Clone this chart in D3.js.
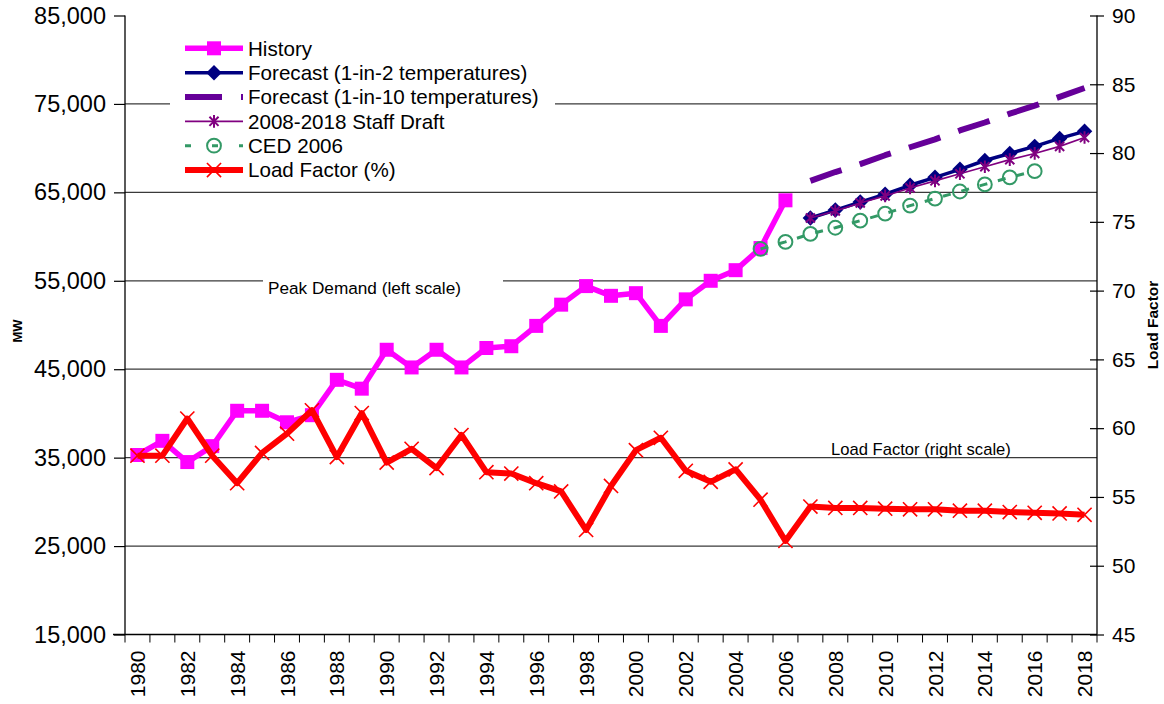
<!DOCTYPE html>
<html><head><meta charset="utf-8">
<script src="https://cdn.jsdelivr.net/npm/d3@7"></script>
<style>
html,body{margin:0;padding:0;background:#fff;}
text{font-family:"Liberation Sans",Arial,sans-serif;fill:#000;}
</style></head>
<body>
<svg id="chart" width="1164" height="704"></svg>
<script>
const years = [1980,1981,1982,1983,1984,1985,1986,1987,1988,1989,1990,1991,1992,1993,1994,1995,1996,1997,1998,1999,2000,2001,2002,2003,2004,2005,2006,2007,2008,2009,2010,2011,2012,2013,2014,2015,2016,2017,2018];
const historyYears = [1980,1981,1982,1983,1984,1985,1986,1987,1988,1989,1990,1991,1992,1993,1994,1995,1996,1997,1998,1999,2000,2001,2002,2003,2004,2005,2006];
const historyMW = [35300,36900,34500,36300,40300,40300,39000,39800,43800,42800,47200,45200,47200,45200,47400,47600,49900,52300,54400,53300,53600,49900,52900,55000,56200,58700,64100];
const forecastYears = [2007,2008,2009,2010,2011,2012,2013,2014,2015,2016,2017,2018];
const forecast1in2 = [62100,63000,63900,64800,65800,66700,67600,68600,69400,70200,71100,71900];
const forecast1in10 = [66300,67300,68200,69200,70100,71000,72000,72900,73900,74800,75800,76800];
const staffDraft = [62100,62900,63800,64600,65500,66300,67100,67900,68700,69400,70200,71200];
const cedYears = [2005,2006,2007,2008,2009,2010,2011,2012,2013,2014,2015,2016];
const ced2006 = [58600,59400,60300,61000,61800,62600,63500,64300,65100,65900,66700,67400];
const loadFactor = [58.0,58.0,60.7,58.0,56.0,58.2,59.6,61.3,57.9,61.1,57.5,58.5,57.1,59.5,56.8,56.7,56.0,55.4,52.6,55.8,58.4,59.3,56.9,56.1,57.0,54.8,51.8,54.3,54.2,54.2,54.15,54.1,54.1,54.0,54.0,53.9,53.85,53.8,53.7];
const leftTicks = [15000,25000,35000,45000,55000,65000,75000,85000];
const rightTicks = [45,50,55,60,65,70,75,80,85,90];
const xLabelYears = [1980,1982,1984,1986,1988,1990,1992,1994,1996,1998,2000,2002,2004,2006,2008,2010,2012,2014,2016,2018];
const legendLabels = ["History","Forecast (1-in-2 temperatures)","Forecast (1-in-10 temperatures)","2008-2018 Staff Draft","CED 2006","Load Factor (%)"];

const svg = d3.select("#chart");
const L = 125, R = 1097, T = 15.5, B = 634.5;
const x = d3.scaleBand().domain(years).range([L, R]).padding(0);
const cx = d => x(d) + x.bandwidth()/2;
const yL = d3.scaleLinear().domain([15000,85000]).range([B, T]);
const yR = d3.scaleLinear().domain([45,90]).range([B, T]);

// gridlines
svg.append("g").selectAll("line").data(leftTicks.filter(v => v>15000 && v<85000)).join("line")
  .attr("x1", L).attr("x2", R).attr("y1", d=>yL(d)).attr("y2", d=>yL(d))
  .attr("stroke", "#3a3a3a").attr("stroke-width", 1.2);

// left axis
const gl = svg.append("g").attr("transform", `translate(${L},0)`)
  .call(d3.axisLeft(yL).tickValues(leftTicks).tickSize(11).tickPadding(8).tickFormat(d3.format(",")));
gl.select(".domain").attr("stroke","#000").attr("stroke-width",1.3).attr("d", `M0,${T}V${B}`);
gl.selectAll(".tick line").attr("stroke","#000").attr("stroke-width",1.2);
gl.selectAll(".tick text").attr("font-size", 23.5).attr("font-family","Liberation Sans, Arial, sans-serif").attr("fill","#000");

// right axis
const gr = svg.append("g").attr("transform", `translate(${R},0)`)
  .call(d3.axisRight(yR).tickValues(rightTicks).tickSize(6).tickPadding(10));
gr.select(".domain").attr("stroke","#000").attr("stroke-width",1.3).attr("d", `M0,${T}V${B}`);
gr.selectAll(".tick line").attr("stroke","#000").attr("stroke-width",1.2).attr("x1",-7).attr("x2",7);
gr.selectAll(".tick text").attr("font-size", 21).attr("font-family","Liberation Sans, Arial, sans-serif").attr("fill","#000").attr("x", 15);

// bottom axis
const gb = svg.append("g");
gb.append("line").attr("x1", L-12).attr("x2", R).attr("y1", B).attr("y2", B).attr("stroke","#000").attr("stroke-width",1.3);
gb.selectAll("line.tk").data(years.concat([null])).join("line").attr("class","tk")
  .attr("x1", (d,i)=> L + i*x.bandwidth()).attr("x2", (d,i)=> L + i*x.bandwidth())
  .attr("y1", B).attr("y2", B+8).attr("stroke","#000").attr("stroke-width",1);
gb.selectAll("text").data(xLabelYears).join("text")
  .attr("transform", d => `translate(${cx(d)},${B+16}) rotate(-90)`)
  .attr("text-anchor","end").attr("dy","0.36em").attr("font-size",21).text(d=>d);

// axis titles
svg.append("text").attr("transform","translate(22,331) rotate(-90)").attr("text-anchor","middle")
  .attr("font-size",13).attr("font-weight","bold").text("MW");
svg.append("text").attr("transform","translate(1158,325) rotate(-90)").attr("text-anchor","middle")
  .attr("font-size",15.5).attr("font-weight","bold").text("Load Factor");

// annotations
svg.append("rect").attr("x",263).attr("y",276).attr("width",240).attr("height",12).attr("fill","#fff");
svg.append("text").attr("x",268).attr("y",294).attr("font-size",17.2).text("Peak Demand (left scale)");
svg.append("text").attr("x",831).attr("y",455).attr("font-size",16.6).text("Load Factor (right scale)");

// symbols
const asterisk = {draw(ctx, size){ const r = Math.sqrt(size)/2; const d = r*0.72;
  ctx.moveTo(0,-r); ctx.lineTo(0,r); ctx.moveTo(-d,-d); ctx.lineTo(d,d); ctx.moveTo(-d,d); ctx.lineTo(d,-d);}};
const xMark = {draw(ctx, size){ const r = Math.sqrt(size)/2;
  ctx.moveTo(-r,-r); ctx.lineTo(r,r); ctx.moveTo(-r,r); ctx.lineTo(r,-r);}};
const diamond = {draw(ctx, size){ const r = Math.sqrt(size)/2;
  ctx.moveTo(0,-r); ctx.lineTo(r,0); ctx.lineTo(0,r); ctx.lineTo(-r,0); ctx.closePath();}};

function drawLine(xs, vals, yScale, style){
  const g = svg.append("g");
  const pts = xs.map((yr,i)=>[cx(yr), yScale(vals[i])]);
  g.append("path").attr("d", d3.line()(pts)).attr("fill","none")
    .attr("stroke", style.color).attr("stroke-width", style.width)
    .attr("stroke-dasharray", style.dash || null).attr("stroke-linejoin","round");
  if (style.symbol){
    g.selectAll("path.m").data(pts).join("path").attr("class","m")
      .attr("transform", p=>`translate(${p[0]},${p[1]})`)
      .attr("d", d3.symbol().type(style.symbol).size(style.size))
      .attr("fill", style.fill).attr("stroke", style.mstroke || "none").attr("stroke-width", style.mwidth || 0);
  }
  return g;
}

const styles = [
  {color:"#FF00FF", width:5.5, symbol:d3.symbolSquare, size:196, fill:"#FF00FF"},
  {color:"#000080", width:3.5, symbol:diamond, size:240, fill:"#000080"},
  {color:"#660099", width:6, dash:"33,19"},
  {color:"#800080", width:1.6, symbol:asterisk, size:160, fill:"none", mstroke:"#800080", mwidth:2},
  {color:"#339966", width:3, dash:"8,11", symbol:d3.symbolCircle, size:150, fill:"none", mstroke:"#339966", mwidth:2},
  {color:"#FF0000", width:6, symbol:xMark, size:200, fill:"none", mstroke:"#FF0000", mwidth:1.6}
];

drawLine(historyYears, historyMW, yL, styles[0]);
drawLine(forecastYears, forecast1in2, yL, styles[1]);
drawLine(forecastYears, forecast1in10, yL, styles[2]);
drawLine(forecastYears, staffDraft, yL, styles[3]);
drawLine(cedYears, ced2006, yL, styles[4]);
drawLine(years, loadFactor, yR, styles[5]);

// legend
const lg = svg.append("g");
lg.append("rect").attr("x",170).attr("y",33).attr("width",385).attr("height",150).attr("fill","#fff");
legendLabels.forEach((lab,i)=>{
  const yy = 48.3 + i*24.35;
  const s = styles[i];
  lg.append("line").attr("x1",185).attr("x2",243).attr("y1",yy).attr("y2",yy)
    .attr("stroke", s.color).attr("stroke-width", s.width)
    .attr("stroke-dasharray", i===2 ? "37,19" : (i===4 ? "6,21" : null));
  if (s.symbol){
    lg.append("path").attr("transform",`translate(214,${yy})`)
      .attr("d", d3.symbol().type(s.symbol).size(s.size)).attr("fill", s.fill)
      .attr("stroke", s.mstroke || "none").attr("stroke-width", s.mwidth || 0);
  }
  lg.append("text").attr("x",248).attr("y",yy).attr("dy","0.36em").attr("font-size",20.6).text(lab);
});
</script>
</body></html>
